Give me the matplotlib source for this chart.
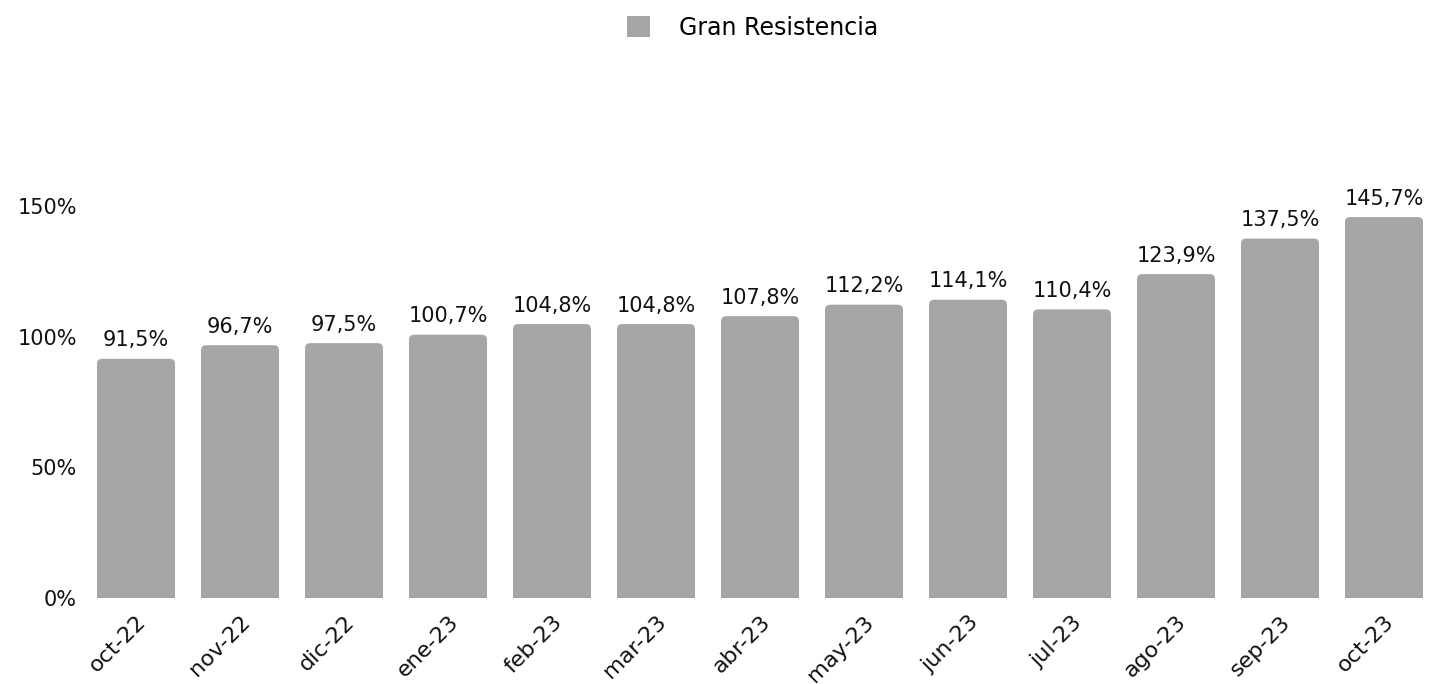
import matplotlib
matplotlib.use("Agg")
import matplotlib.pyplot as plt
from matplotlib.patches import FancyBboxPatch, Rectangle

months = ["oct-22", "nov-22", "dic-22", "ene-23", "feb-23", "mar-23", "abr-23",
          "may-23", "jun-23", "jul-23", "ago-23", "sep-23", "oct-23"]
values = [91.5, 96.7, 97.5, 100.7, 104.8, 104.8, 107.8,
          112.2, 114.1, 110.4, 123.9, 137.5, 145.7]
series_name = "Gran Resistencia"
yticks = [0, 50, 100, 150]

BAR = "#a6a6a6"
plt.rcParams["font.family"] = ["DejaVu Sans"]

fig = plt.figure(figsize=(14.36, 6.84), dpi=100)
ax = fig.add_axes([0.0585, 0.1257, 0.9415, 0.688])

x = list(range(len(months)))
bars = ax.bar(x, values, width=0.75, color=BAR)
ax.set_xlim(-0.5, len(months) - 0.5)
ax.set_ylim(0, 180)

# swap plain bars for ones with rounded top corners
r = 0.05
for b in bars:
    b.set_visible(False)
    x0, w, h = b.get_x(), b.get_width(), b.get_height()
    ax.add_patch(FancyBboxPatch((x0, 0), w, h, boxstyle=f"round,pad=0,rounding_size={r}",
                                mutation_aspect=40, fc=BAR, ec="none", lw=0))
    ax.add_patch(Rectangle((x0, 0), w, h / 2, fc=BAR, ec="none", lw=0))

for xi, v in zip(x, values):
    ax.annotate(f"{v:.1f}%".replace(".", ","), (xi, v), xytext=(0, 6),
                textcoords="offset points", ha="center", va="bottom",
                fontsize=15, color="#111111")

ax.set_xticks(x)
ax.set_xticklabels(months, rotation=45, ha="right", rotation_mode="anchor",
                   fontsize=16, color="#111111")
ax.set_yticks(yticks)
ax.set_yticklabels([f"{t}%" for t in yticks], fontsize=15, color="#111111")
ax.tick_params(length=0, axis="y", pad=5)
ax.tick_params(length=0, axis="x", pad=10)
for s in ax.spines.values():
    s.set_visible(False)

fig.legend(handles=[Rectangle((0, 0), 1, 1, fc=BAR, ec="none")], labels=[series_name],
           loc="upper center", bbox_to_anchor=(0.524, 1.008), frameon=False,
           fontsize=17, handlelength=1.0, handleheight=1.0, handletextpad=1.2)

fig.savefig("out.png", dpi=100)
